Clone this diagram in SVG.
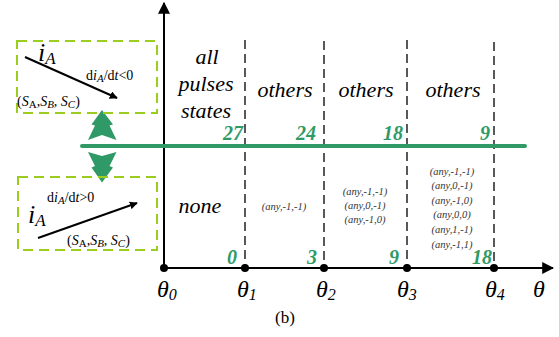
<svg xmlns="http://www.w3.org/2000/svg" width="559" height="337" viewBox="0 0 559 337" font-family="Liberation Serif, DejaVu Serif, serif">
<style>
.t{font-style:italic;fill:#000}
.big{font-size:22px}
.sm{font-size:10.5px;fill:#333}
.g{font-style:italic;font-weight:bold;font-size:20px;fill:#2f9a66}
.box{fill:none;stroke:#9acd1e;stroke-width:2;stroke-dasharray:10,6}
.dash{stroke:#000;stroke-width:1.3;stroke-dasharray:9,5}
.th{font-style:italic;font-size:24px}
.r{font-size:14px}
</style>
<defs>
<marker id="ah" viewBox="0 0 10 10" refX="9" refY="5" markerWidth="8" markerHeight="8" markerUnits="userSpaceOnUse" orient="auto"><path d="M0,0L10,5L0,10z" fill="#000"/></marker>
<marker id="ah2" viewBox="0 0 10 10" refX="9" refY="5" markerWidth="12" markerHeight="12" markerUnits="userSpaceOnUse" orient="auto"><path d="M0,0L10,5L0,10z" fill="#000"/></marker>
</defs>
<rect width="559" height="337" fill="#fff"/>
<g id="connectors">
<line x1="164" y1="268" x2="164" y2="3" stroke="#000" stroke-width="2" marker-end="url(#ah2)"/>
<line x1="164" y1="268" x2="553" y2="268" stroke="#000" stroke-width="2" marker-end="url(#ah2)"/>
<line class="dash" x1="245" y1="40" x2="245" y2="268"/>
<line class="dash" x1="324" y1="41" x2="324" y2="268"/>
<line class="dash" x1="407" y1="40" x2="407" y2="268"/>
<line class="dash" x1="494" y1="42" x2="494" y2="268"/>
<line x1="82" y1="146" x2="525" y2="146" stroke="#2f9a66" stroke-width="4" stroke-linecap="round"/>
<polygon points="102,110 91.5,124.5 95,125.5 88,140 102,135 116.5,140 109.5,125.5 113,124.5" fill="#2f9a66"/>
<polygon points="88,152 102,156 116.5,152 109.5,166 113,167.5 102,182.5 91.5,167.5 95,166" fill="#2f9a66"/>
<line x1="25" y1="57" x2="117" y2="98" stroke="#000" stroke-width="2" marker-end="url(#ah)"/>
<line x1="38" y1="238" x2="137" y2="203" stroke="#000" stroke-width="2" marker-end="url(#ah)"/>
</g>
<g id="dots" fill="#000">
<circle cx="164" cy="268" r="4"/><circle cx="245" cy="268" r="4"/><circle cx="324" cy="268" r="4"/><circle cx="407" cy="268" r="4"/><circle cx="494" cy="268" r="4"/>
</g>
<g id="box-top">
<rect class="box" x="17" y="41" width="140" height="72"/>
<text class="t" x="38" y="61" font-size="26">i<tspan font-size="17" dy="3">A</tspan></text>
<text class="r" x="86" y="80">d<tspan font-style="italic">i</tspan><tspan font-style="italic" font-size="11" dy="2">A</tspan><tspan dy="-2">/d</tspan><tspan font-style="italic">t</tspan>&lt;0</text>
<text class="r" x="17" y="106" font-size="16">(<tspan font-style="italic">S</tspan><tspan font-size="11" dy="2">A</tspan><tspan dy="-2">,</tspan><tspan font-style="italic">S</tspan><tspan font-style="italic" font-size="11" dy="2">B</tspan><tspan dy="-2">, </tspan><tspan font-style="italic">S</tspan><tspan font-style="italic" font-size="11" dy="2">C</tspan><tspan dy="-2">)</tspan></text>
</g>
<g id="box-bottom">
<rect class="box" x="18" y="177" width="139" height="73"/>
<text class="t" x="28" y="223" font-size="26">i<tspan font-size="17" dy="3">A</tspan></text>
<text class="r" x="47" y="202">d<tspan font-style="italic">i</tspan><tspan font-style="italic" font-size="11" dy="2">A</tspan><tspan dy="-2">/d</tspan><tspan font-style="italic">t</tspan>&gt;0</text>
<text class="r" x="67" y="245" font-size="16">(<tspan font-style="italic">S</tspan><tspan font-size="11" dy="2">A</tspan><tspan dy="-2">,</tspan><tspan font-style="italic">S</tspan><tspan font-style="italic" font-size="11" dy="2">B</tspan><tspan dy="-2">, </tspan><tspan font-style="italic">S</tspan><tspan font-style="italic" font-size="11" dy="2">C</tspan><tspan dy="-2">)</tspan></text>
</g>
<g id="labels-top" text-anchor="middle">
<text class="t big" x="207" y="64">all</text>
<text class="t big" x="206" y="91">pulses</text>
<text class="t big" x="206" y="118">states</text>
<text class="t big" x="285" y="97">others</text>
<text class="t big" x="366" y="97">others</text>
<text class="t big" x="453" y="97">others</text>
</g>
<g id="numbers" text-anchor="end">
<text class="g" x="243" y="140">27</text>
<text class="g" x="316" y="140">24</text>
<text class="g" x="403" y="140">18</text>
<text class="g" x="490" y="140">9</text>
<text class="g" x="237" y="264">0</text>
<text class="g" x="317" y="264">3</text>
<text class="g" x="399" y="264">9</text>
<text class="g" x="492" y="264">18</text>
</g>
<g id="labels-bottom" text-anchor="middle">
<text class="t big" x="200" y="213">none</text>
<text class="t sm" x="284" y="210">(any,-1,-1)</text>
<text class="t sm" x="365" y="195">(any,-1,-1)</text>
<text class="t sm" x="365" y="209">(any,0,-1)</text>
<text class="t sm" x="365" y="223">(any,-1,0)</text>
<text class="t sm" x="452" y="175">(any,-1,-1)</text>
<text class="t sm" x="452" y="189">(any,0,-1)</text>
<text class="t sm" x="452" y="204">(any,-1,0)</text>
<text class="t sm" x="452" y="218">(any,0,0)</text>
<text class="t sm" x="452" y="233">(any,1,-1)</text>
<text class="t sm" x="452" y="248">(any,-1,1)</text>
</g>
<g id="axis-labels">
<text class="th" x="157" y="297">θ<tspan font-size="16" dy="3">0</tspan></text>
<text class="th" x="237" y="297">θ<tspan font-size="16" dy="3">1</tspan></text>
<text class="th" x="316" y="297">θ<tspan font-size="16" dy="3">2</tspan></text>
<text class="th" x="397" y="297">θ<tspan font-size="16" dy="3">3</tspan></text>
<text class="th" x="485" y="297">θ<tspan font-size="16" dy="3">4</tspan></text>
<text class="th" x="533" y="297">θ</text>
<text font-size="17" x="285" y="323" text-anchor="middle">(b)</text>
</g>
</svg>
